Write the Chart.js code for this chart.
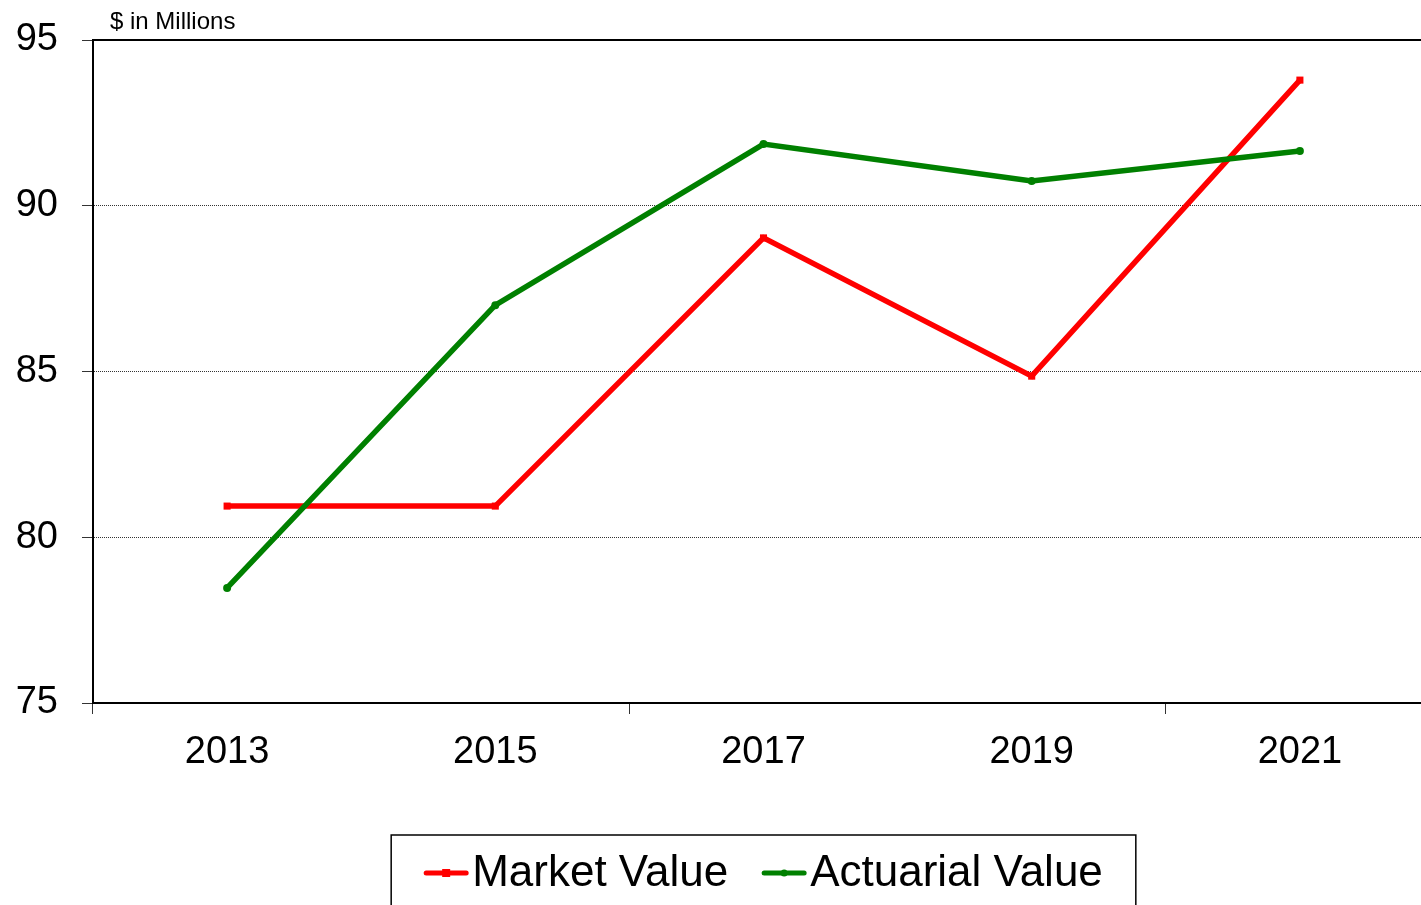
<!DOCTYPE html>
<html lang="en">
  <head>
    <meta charset="UTF-8" />
    <meta name="viewport" content="width=device-width, initial-scale=1.0" />
    <title>Market Value vs Actuarial Value</title>
    <script src="https://cdn.jsdelivr.net/npm/chart.js"></script>
    <style>
      html,
      body {
        margin: 0;
        padding: 0;
        background-color: #ffffff;
        overflow: hidden;
      }

      .chart-container {
        position: absolute;
        left: 0;
        top: 0;
        width: 1440px;
        height: 960px;
      }
    </style>
  </head>
  <body>
    <div class="chart-container">
      <canvas id="valueChart"></canvas>
    </div>

    <script>
      // data
      const years = ["2013", "2015", "2017", "2019", "2021"];
      const marketValue = [80.94, 80.94, 89.03, 84.86, 93.79];
      const actuarialValue = [78.47, 87.0, 91.86, 90.75, 91.65];
      const yTicks = [75, 80, 85, 90, 95];
      const unitLabel = "$ in Millions";

      const FONT = "Arial, 'Liberation Sans', sans-serif";

      // top frame line, unit label and the boxed legend
      const framePlugin = {
        id: "frame",
        beforeDatasetsDraw(chart) {
          const { ctx, chartArea } = chart;
          ctx.save();
          ctx.strokeStyle = "#000";
          ctx.lineWidth = 2;
          ctx.beginPath();
          ctx.moveTo(chartArea.left, chartArea.top);
          ctx.lineTo(chartArea.right, chartArea.top);
          ctx.stroke();
          ctx.restore();
        },
        afterDraw(chart) {
          const { ctx, chartArea } = chart;
          ctx.save();

          ctx.fillStyle = "#000";
          ctx.font = "24px " + FONT;
          ctx.textBaseline = "middle";
          ctx.textAlign = "left";
          ctx.fillText(unitLabel, chartArea.left + 17, chartArea.top - 18);

          // legend
          ctx.font = "44px " + FONT;
          const symW = 44, gap = 4, itemGap = 34, padX = 33;
          const items = chart.data.datasets.map((ds) => ({
            ds: ds,
            w: ctx.measureText(ds.label).width,
          }));
          let total = 0;
          items.forEach((it) => (total += symW + gap + it.w));
          total += itemGap * (items.length - 1);
          const cx = (chartArea.left + chartArea.right) / 2;
          const boxTop = chartArea.bottom + 132;
          const y = chartArea.bottom + 170;
          let x = cx - total / 2;

          ctx.strokeStyle = "#000";
          ctx.lineWidth = 1.5;
          ctx.strokeRect(x - padX, boxTop, total + 2 * padX, 140);

          items.forEach((it) => {
            const ds = it.ds;
            ctx.strokeStyle = ds.borderColor;
            ctx.lineWidth = 5;
            ctx.lineCap = "round";
            ctx.beginPath();
            ctx.moveTo(x + 2, y);
            ctx.lineTo(x + symW - 2, y);
            ctx.stroke();
            ctx.fillStyle = ds.borderColor;
            const mx = x + symW / 2;
            if (ds.pointStyle === "rect") {
              ctx.fillRect(mx - 4, y - 4, 8, 8);
            } else {
              ctx.beginPath();
              ctx.arc(mx, y, 3.5, 0, Math.PI * 2);
              ctx.fill();
            }
            ctx.fillStyle = "#000";
            ctx.fillText(ds.label, x + symW + gap, y + 1);
            x += symW + gap + it.w + itemGap;
          });

          ctx.restore();
        },
      };

      const ctx = document.getElementById("valueChart").getContext("2d");

      const chart = new Chart(ctx, {
        type: "line",
        data: {
          labels: years,
          datasets: [
            {
              label: "Market Value",
              data: marketValue,
              borderColor: "#ff0000",
              backgroundColor: "#ff0000",
              borderWidth: 5.5,
              pointStyle: "rect",
              pointRadius: 5,
              pointBorderWidth: 0,
              tension: 0,
              order: 1,
            },
            {
              label: "Actuarial Value",
              data: actuarialValue,
              borderColor: "#008000",
              backgroundColor: "#008000",
              borderWidth: 5.5,
              pointStyle: "circle",
              pointRadius: 4,
              pointBorderWidth: 0,
              tension: 0,
              order: 0,
            },
          ],
        },
        options: {
          responsive: true,
          maintainAspectRatio: false,
          animation: false,
          layout: {
            padding: { top: 40, right: 6, bottom: 177, left: 0 },
          },
          plugins: {
            legend: { display: false },
            tooltip: { enabled: false },
          },
          scales: {
            x: {
              offset: true,
              grid: {
                offset: true,
                drawOnChartArea: false,
                tickLength: 11,
                tickWidth: 1,
                tickColor: (c) => (c.index % 2 === 0 ? "#333" : "rgba(0,0,0,0)"),
              },
              border: { color: "#000", width: 2 },
              ticks: {
                color: "#000",
                font: { family: FONT, size: 38 },
                padding: 16,
                maxRotation: 0,
              },
              afterFit: (scale) => {
                scale.height = 80;
                scale.paddingLeft = 0;
                scale.paddingRight = 0;
              },
            },
            y: {
              min: 75,
              max: 95,
              afterBuildTicks: (scale) => {
                scale.ticks = yTicks.map((v) => ({ value: v }));
              },
              grid: {
                color: (c) =>
                  c.tick && (c.tick.value === 75 || c.tick.value === 95)
                    ? "rgba(0,0,0,0)"
                    : "#333",
                lineWidth: 1,
                tickLength: 11,
                tickColor: "#333",
                tickWidth: 1,
              },
              border: { color: "#000", width: 2, dash: [1, 1] },
              ticks: {
                color: "#000",
                font: { family: FONT, size: 38 },
                padding: 24,
              },
              afterFit: (scale) => {
                scale.width = 93;
                scale.paddingTop = 0;
                scale.paddingBottom = 0;
              },
            },
          },
        },
        plugins: [framePlugin],
      });
    </script>
  </body>
</html>
